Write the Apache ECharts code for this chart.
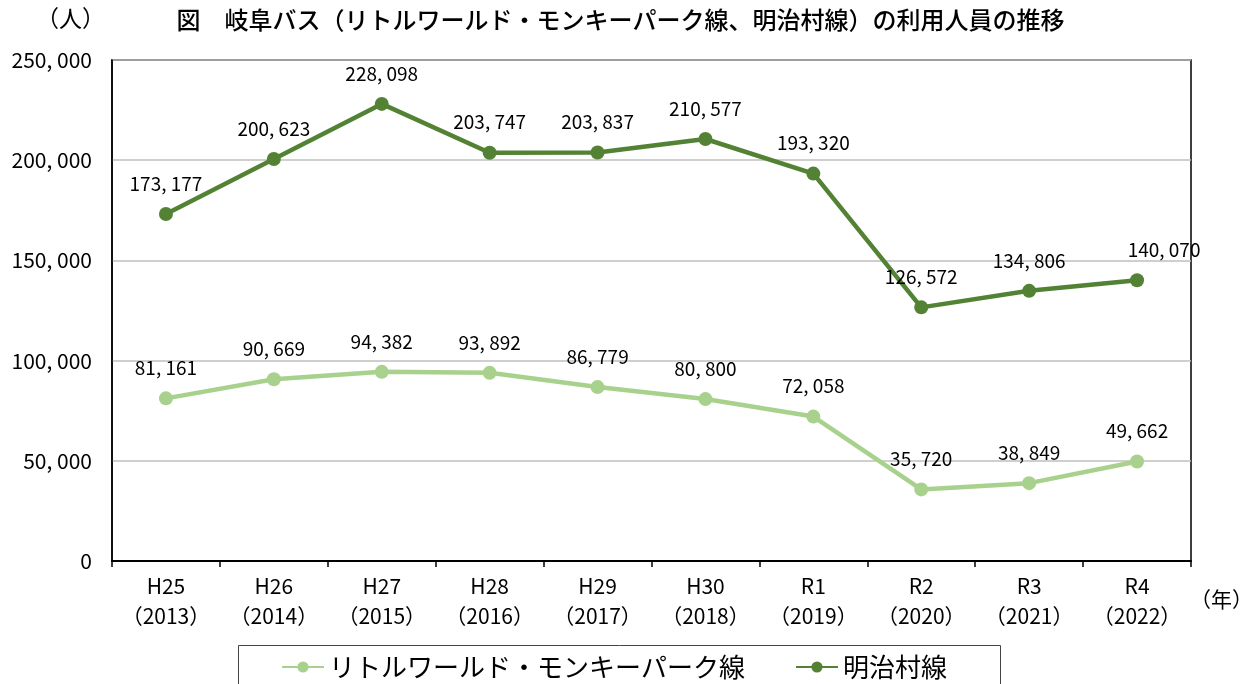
<!DOCTYPE html>
<html>
<head>
<meta charset="utf-8">
<script src="https://cdn.jsdelivr.net/npm/echarts@6/dist/echarts.min.js"></script>
<style>
html,body{margin:0;padding:0;background:#fff;}
#c{width:1241px;height:684px;}
</style>
</head>
<body>
<div id="c"></div>
<script>
const categories = ['H25','H26','H27','H28','H29','H30','R1','R2','R3','R4'];
const years = ['2013','2014','2015','2016','2017','2018','2019','2020','2021','2022'];
const littleWorld = [81161, 90669, 94382, 93892, 86779, 80800, 72058, 35720, 38849, 49662];
const meijimura = [173177, 200623, 228098, 203747, 203837, 210577, 193320, 126572, 134806, 140070];
const seriesNames = ['リトルワールド・モンキーパーク線', '明治村線'];
const yTicks = [0, 50000, 100000, 150000, 200000, 250000];

const FONT = '"Noto Sans CJK JP", "Noto Sans", sans-serif';
function fmt(v){ return String(v).replace(/\B(?=(\d{3})+(?!\d))/g, ', '); }

const chart = echarts.init(document.getElementById('c'));
const meijiData = meijimura.map((v,i)=> i===9 ? {value:v, label:{offset:[27,0]}} : v);
chart.setOption({
  backgroundColor:'#fff',
  animation:false,
  textStyle:{fontFamily:FONT},
  title:{
    text:'図　岐阜バス（リトルワールド・モンキーパーク線、明治村線）の利用人員の推移',
    left:'center', top:3,
    textStyle:{fontSize:24, fontWeight:500, color:'#000', fontFamily:FONT}
  },
  graphic:[
    {type:'text', left:36, top:7, style:{text:'（人）', fontSize:23, fill:'#000', fontFamily:FONT}},
    {type:'text', left:1190, top:589, style:{text:'（年）', fontSize:21, fill:'#000', fontFamily:FONT}},
    {type:'rect', shape:{x:238.5, y:645.5, width:762, height:60}, style:{fill:'none', stroke:'#444', lineWidth:1}}
  ],
  legend:{
    data:seriesNames,
    left:276, top:649,
    itemGap:50, itemWidth:42, itemHeight:14,
    textStyle:{fontSize:26, color:'#000', fontFamily:FONT}
  },
  grid:{left:112, right:50, top:60, bottom:123, show:true, borderColor:'#000', borderWidth:1.5},
  xAxis:{
    type:'category', data:categories.map((c,i)=>c+'\n（'+years[i]+'）'),
    boundaryGap:true,
    axisLine:{lineStyle:{color:'#000', width:2}},
    axisTick:{show:true, length:6, interval:0, lineStyle:{color:'#000', width:1.5}},
    axisLabel:{fontSize:21, color:'#000', lineHeight:30, margin:10, interval:0, fontFamily:FONT}
  },
  yAxis:{
    type:'value', min:yTicks[0], max:yTicks[yTicks.length-1], interval:50000,
    axisLine:{show:true, lineStyle:{color:'#000', width:1.5}},
    axisTick:{show:false},
    splitLine:{lineStyle:{color:'#bfbfbf', width:1.5}},
    axisLabel:{fontSize:21, color:'#000', margin:20, formatter:fmt, fontFamily:FONT}
  },
  series:[
    {
      name:seriesNames[0], type:'line', data:littleWorld,
      symbol:'circle', symbolSize:14,
      lineStyle:{color:'#a9d18e', width:4.5}, itemStyle:{color:'#a9d18e'},
      label:{show:true, position:'top', distance:14, fontSize:19, color:'#000', formatter:p=>fmt(p.value), fontFamily:FONT}
    },
    {
      name:seriesNames[1], type:'line', data:meijiData,
      symbol:'circle', symbolSize:14,
      lineStyle:{color:'#548235', width:4.5}, itemStyle:{color:'#548235'},
      label:{show:true, position:'top', distance:14, fontSize:19, color:'#000', formatter:p=>fmt(p.value), fontFamily:FONT}
    }
  ]
});
</script>
</body>
</html>
